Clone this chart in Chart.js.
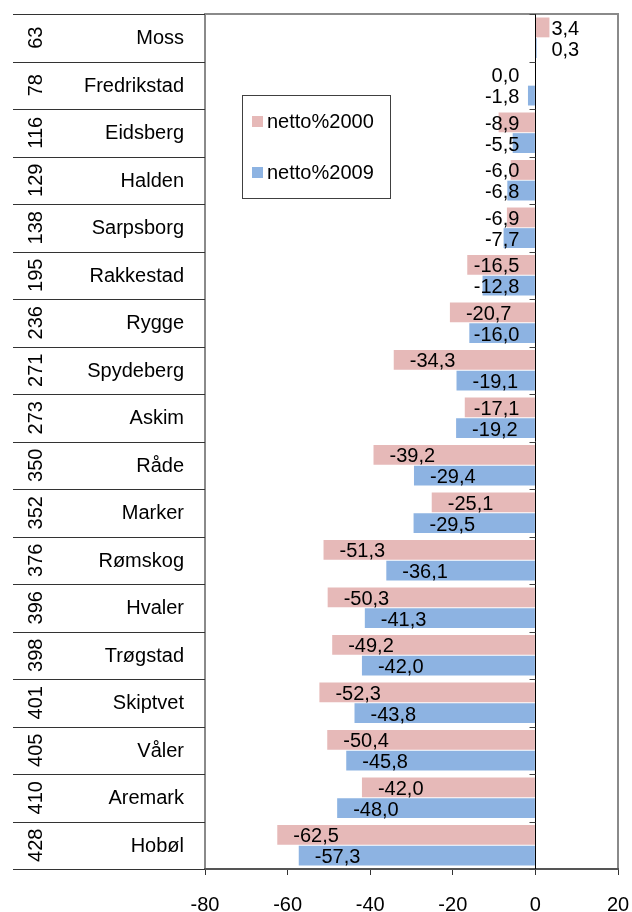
<!DOCTYPE html>
<html>
<head>
<meta charset="utf-8">
<script src="https://cdn.jsdelivr.net/npm/chart.js@4/dist/chart.umd.min.js"></script>
<style>
    html, body { margin: 0; padding: 0; background: #fff; }
    #wrap { width: 632px; height: 912px; }
</style>
</head>
<body>
<div id="wrap"><canvas id="nettoChart" width="632" height="912"></canvas></div>
<script>
const ranks = [63, 78, 116, 129, 138, 195, 236, 271, 273, 350, 352, 376, 396, 398, 401, 405, 410, 428];
const kommuner = ['Moss', 'Fredrikstad', 'Eidsberg', 'Halden', 'Sarpsborg', 'Rakkestad', 'Rygge', 'Spydeberg',
    'Askim', 'Råde', 'Marker', 'Rømskog', 'Hvaler', 'Trøgstad', 'Skiptvet', 'Våler', 'Aremark', 'Hobøl'];
const netto2000 = [3.4, 0.0, -8.9, -6.0, -6.9, -16.5, -20.7, -34.3, -17.1, -39.2, -25.1, -51.3, -50.3, -49.2, -52.3, -50.4, -42.0, -62.5];
const netto2009 = [0.3, -1.8, -5.5, -6.8, -7.7, -12.8, -16.0, -19.1, -19.2, -29.4, -29.5, -36.1, -41.3, -42.0, -43.8, -45.8, -48.0, -57.3];
const xTicks = [-80, -60, -40, -20, 0, 20];

const FONT = '"Liberation Sans", Arial, sans-serif';
const pink = '#E6B9B8';
const blue = '#8DB3E2';

function fmt(v) {
    return v.toFixed(1).replace('.', ',');
}

// left "table" with rank + name, drawn against the y scale
const tablePlugin = {
    id: 'table',
    afterDraw(chart) {
        const ctx = chart.ctx;
        const y = chart.scales.y;
        const area = chart.chartArea;
        const half = (y.getPixelForValue(1) - y.getPixelForValue(0)) / 2;
        ctx.save();
        ctx.strokeStyle = '#333';
        ctx.lineWidth = 1;
        for (let i = 0; i <= kommuner.length; i++) {
            const yy = Math.round(y.getPixelForValue(i) - half) + 0.5;
            ctx.beginPath();
            ctx.moveTo(13, yy);
            ctx.lineTo(area.left, yy);
            ctx.stroke();
        }
        ctx.fillStyle = '#000';
        ctx.font = '20px ' + FONT;
        ctx.textBaseline = 'middle';
        kommuner.forEach((name, i) => {
            const yy = y.getPixelForValue(i);
            ctx.textAlign = 'right';
            ctx.fillText(name, 184, yy + 1);
            ctx.save();
            ctx.translate(35, yy);
            ctx.rotate(-Math.PI / 2);
            ctx.textAlign = 'center';
            ctx.fillText(String(ranks[i]), 0, 1);
            ctx.restore();
        });
        ctx.restore();
    }
};

const framePlugin = {
    id: 'frame',
    afterDatasetsDraw(chart) {
        const ctx = chart.ctx;
        const a = chart.chartArea;
        const x = chart.scales.x;
        const y = chart.scales.y;
        const zero = Math.round(x.getPixelForValue(0)) + 0.5;
        const half = (y.getPixelForValue(1) - y.getPixelForValue(0)) / 2;
        ctx.save();
        // plot frame
        ctx.strokeStyle = '#8a8a8a';
        ctx.lineWidth = 2;
        ctx.beginPath();
        ctx.moveTo(a.left, a.bottom);
        ctx.lineTo(a.left, a.top);
        ctx.lineTo(a.right, a.top);
        ctx.lineTo(a.right, a.bottom);
        ctx.stroke();
        ctx.strokeStyle = '#555';
        ctx.beginPath();
        ctx.moveTo(a.left - 1, a.bottom);
        ctx.lineTo(a.right + 1, a.bottom);
        ctx.stroke();
        // zero axis with category ticks
        ctx.strokeStyle = '#000';
        ctx.lineWidth = 1;
        ctx.beginPath();
        ctx.moveTo(zero, a.top);
        ctx.lineTo(zero, a.bottom);
        ctx.stroke();
        ctx.strokeStyle = '#444';
        for (let i = 0; i <= kommuner.length; i++) {
            const yy = Math.round(y.getPixelForValue(i) - half) + 0.5;
            ctx.beginPath();
            ctx.moveTo(zero - 6, yy);
            ctx.lineTo(zero, yy);
            ctx.stroke();
        }
        ctx.restore();
    }
};

// value labels, Excel style "inside end"
const valuePlugin = {
    id: 'values',
    afterDatasetsDraw(chart) {
        const ctx = chart.ctx;
        const zero = chart.scales.x.getPixelForValue(0);
        ctx.save();
        ctx.font = '20px ' + FONT;
        ctx.fillStyle = '#000';
        ctx.textBaseline = 'middle';
        ctx.textAlign = 'left';
        chart.data.datasets.forEach((ds, di) => {
            chart.getDatasetMeta(di).data.forEach((bar, i) => {
                const v = ds.data[i];
                const txt = fmt(v);
                const w = ctx.measureText(txt).width;
                let left;
                if (v <= 0) {
                    left = Math.min(bar.x + 16, zero - 16 - w);
                } else {
                    left = Math.max(bar.x - 16 - w, zero + 16);
                }
                ctx.fillText(txt, left, bar.y + 2);
            });
        });
        ctx.restore();
    }
};

const legendPlugin = {
    id: 'boxLegend',
    afterDraw(chart) {
        const ctx = chart.ctx;
        ctx.save();
        ctx.fillStyle = '#fff';
        ctx.fillRect(243, 95, 148, 103);
        ctx.strokeStyle = '#404040';
        ctx.lineWidth = 1;
        ctx.strokeRect(242.5, 95.5, 148, 103);
        ctx.font = '20px ' + FONT;
        ctx.textBaseline = 'middle';
        ctx.textAlign = 'left';
        const rows = [121, 172];
        chart.data.datasets.forEach((ds, i) => {
            ctx.fillStyle = ds.backgroundColor;
            ctx.fillRect(252, rows[i] - 5, 11, 11);
            ctx.fillStyle = '#000';
            ctx.fillText(ds.label, 267, rows[i] + 1);
        });
        ctx.restore();
    }
};

const ctx = document.getElementById('nettoChart').getContext('2d');
new Chart(ctx, {
    type: 'bar',
    data: {
        labels: kommuner,
        datasets: [
            { label: 'netto%2000', data: netto2000, backgroundColor: pink, barPercentage: 0.96, categoryPercentage: 0.87 },
            { label: 'netto%2009', data: netto2009, backgroundColor: blue, barPercentage: 0.96, categoryPercentage: 0.87 }
        ]
    },
    options: {
        indexAxis: 'y',
        responsive: false,
        animation: false,
        layout: { padding: { left: 205, right: 14, top: 14, bottom: 0 } },
        scales: {
            x: {
                min: -80,
                max: 20,
                afterBuildTicks: scale => { scale.ticks = xTicks.map(v => ({ value: v })); },
                afterFit: scale => {
                    scale.height = 43;
                    scale.paddingLeft = 0;
                    scale.paddingRight = 0;
                },
                grid: { drawOnChartArea: false, drawTicks: true, tickLength: 6, color: '#333', lineWidth: 1 },
                border: { display: false },
                ticks: {
                    color: '#000',
                    font: { family: FONT, size: 20 },
                    padding: 18,
                    maxRotation: 0
                }
            },
            y: {
                display: false
            }
        },
        plugins: {
            legend: { display: false },
            tooltip: { enabled: false }
        }
    },
    plugins: [tablePlugin, framePlugin, valuePlugin, legendPlugin]
});
</script>
</body>
</html>
